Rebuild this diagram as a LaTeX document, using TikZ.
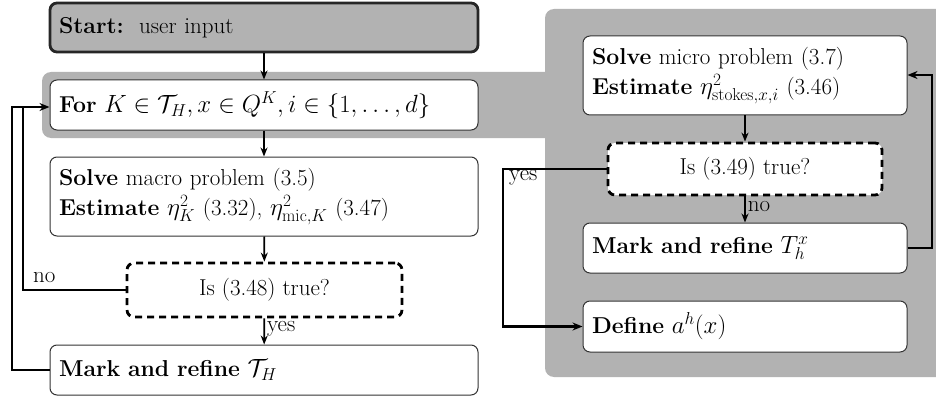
\documentclass[tikz,border=0pt]{standalone}
\usetikzlibrary{arrows.meta}
\tikzset{
  box/.style={rectangle, rounded corners=7pt, draw=black!80, line width=1pt, fill=white,
    inner xsep=9pt, inner ysep=2pt, align=left, font=\fontsize{23}{30}\selectfont},
  dbox/.style={rectangle, rounded corners=7pt, draw=black, line width=2.8pt, fill=white,
    dash pattern=on 7pt off 5pt, align=center, font=\fontsize{23}{28}\selectfont},
  arr/.style={-{Stealth[length=9pt,width=7pt]}, line width=1.8pt},
  loop/.style={-{Stealth[length=10pt,width=8pt]}, line width=2.6pt},
  lbl/.style={font=\fontsize{23}{26}\selectfont, inner sep=0pt}
}
\begin{document}
\begin{tikzpicture}[x=1pt,y=-1pt]
\useasboundingbox (0,0) rectangle (936,401);
% gray backdrops
\fill[black!30, rounded corners=9pt] (545,9) rectangle (960,377);
\fill[black!30, rounded corners=9pt] (42,72) rectangle (600,138);
% left column
\node[box, draw=black!85, line width=2.8pt, fill=black!30, minimum width=428pt, text width=410pt, minimum height=49pt] (start) at (264,27.5) {\textbf{Start:}\, user input};
\node[box, minimum width=428pt, text width=410pt, minimum height=50pt] (for) at (264,105) {\textbf{For} $K\in\mathcal{T}_H, x\in Q^K, i\in\{1,\dots,d\}$};
\node[box, minimum width=428pt, text width=410pt, minimum height=79pt] (macro) at (264,196.5) {\textbf{Solve} macro problem (3.5)\\\textbf{Estimate} $\eta^2_K$ (3.32), $\eta^2_{\mathrm{mic},K}$ (3.47)};
\node[dbox, minimum width=275pt, minimum height=54pt] (q1) at (264.5,290) {Is (3.48) true?};
\node[box, minimum width=428pt, text width=410pt, minimum height=50pt] (mark) at (264,370) {\textbf{Mark and refine} $\mathcal{T}_H$};
% right column
\node[box, minimum width=324pt, text width=306pt, minimum height=79pt] (micro) at (745,75.5) {\textbf{Solve} micro problem (3.7)\\\textbf{Estimate} $\eta^2_{\mathrm{stokes},x,i}$ (3.46)};
\node[dbox, minimum width=274pt, minimum height=52pt] (q2) at (745,169) {Is (3.49) true?};
\node[box, minimum width=324pt, text width=306pt, minimum height=50pt] (markh) at (745,248) {\textbf{Mark and refine} $T_h^x$};
\node[box, minimum width=324pt, text width=306pt, minimum height=51pt] (define) at (745,326.5) {\textbf{Define} $a^h(x)$};
% connectors left
\draw[arr] (start) -- (for);
\draw[arr] (macro) -- (q1);
\draw[arr] (for) -- (macro);
\draw[arr] (q1) -- (mark) node[lbl, pos=0.4, anchor=west, xshift=2pt] (yes1) {yes};
\coordinate (c1) at (23,290);
\coordinate (c2) at (23,107);
\coordinate (c3) at (12,370);
\coordinate (c4) at (12,107);
\draw[line width=2.6pt] (q1.west) -- (c1) -- (c2);
\draw[loop] (mark.west) -- (c3) -- (c4) -- (for.west |- c4);
\node[lbl, anchor=south west] (no1) at (33,283) {no};
% connectors right
\draw[arr] (micro) -- (q2);
\draw[arr] (q2) -- (markh) node[lbl, pos=0.4, anchor=west, xshift=2pt] (no2) {no};
\coordinate (r1) at (932,248);
\coordinate (r2) at (932,75);
\draw[loop] (markh.east) -- (r1) -- (r2) -- (micro.east |- r2);
\coordinate (y1) at (503,169);
\coordinate (y2) at (503,326.5);
\draw[loop] (q2.west) -- (y1) -- (y2) -- (define.west);
\node[lbl, anchor=north west] (yes2) at (509,170) {yes};
\end{tikzpicture}
\end{document}
